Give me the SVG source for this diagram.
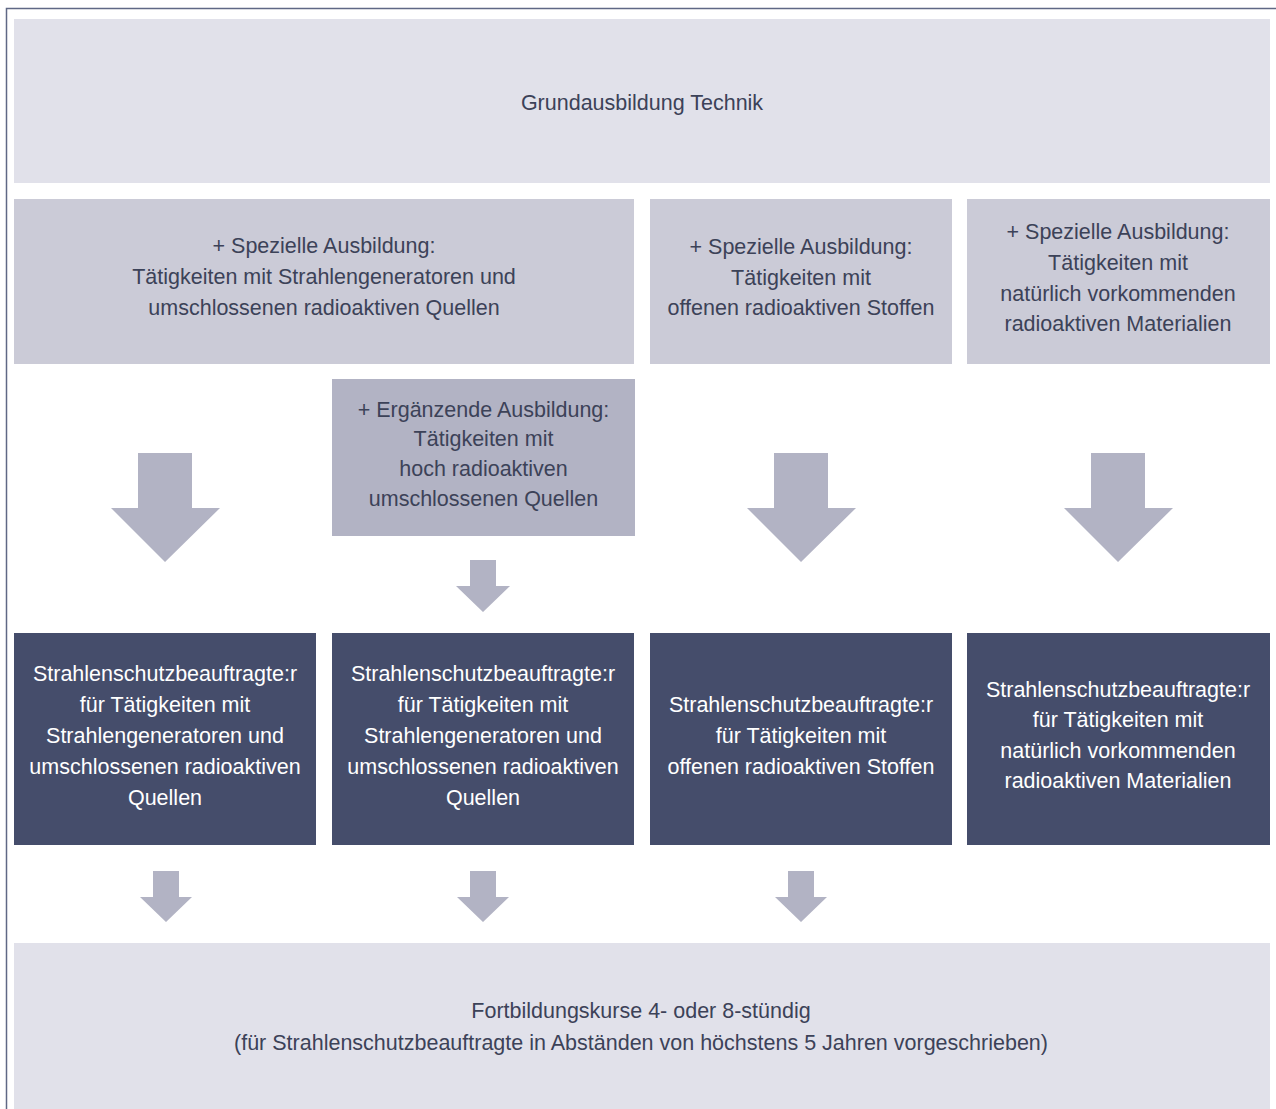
<svg xmlns="http://www.w3.org/2000/svg" width="1276" height="1109" viewBox="0 0 1276 1109">
<style>
.l1{fill:#e1e1ea}
.l2{fill:#cbcbd7}
.l3{fill:#b2b3c4}
.dk{fill:#454d6b}
.ar{fill:#b2b3c4}
text{font-family:"Liberation Sans",Arial,sans-serif;font-size:21.5px;text-anchor:middle}
.t{fill:#3c4258}
.w{fill:#ffffff}
</style>
<rect width="1276" height="1109" fill="#ffffff"/>
<path d="M6.5 1109 V8.5 H1276" fill="none" stroke="#5f6885" stroke-width="1.5"/>
<g id="grund">
<rect class="l1" x="14" y="19" width="1256" height="164"/>
<text class="t" x="642" y="110">Grundausbildung Technik</text>
</g>
<g id="spez1">
<rect class="l2" x="14" y="199" width="620" height="165"/>
<text class="t" x="324"><tspan x="324" y="253">+ Spezielle Ausbildung:</tspan><tspan x="324" y="284">Tätigkeiten mit Strahlengeneratoren und</tspan><tspan x="324" y="315">umschlossenen radioaktiven Quellen</tspan></text>
</g>
<g id="spez2">
<rect class="l2" x="650" y="199" width="302" height="165"/>
<text class="t"><tspan x="801" y="254">+ Spezielle Ausbildung:</tspan><tspan x="801" y="285">Tätigkeiten mit</tspan><tspan x="801" y="315">offenen radioaktiven Stoffen</tspan></text>
</g>
<g id="spez3">
<rect class="l2" x="967" y="199" width="303" height="165"/>
<text class="t"><tspan x="1118" y="239">+ Spezielle Ausbildung:</tspan><tspan x="1118" y="270">Tätigkeiten mit</tspan><tspan x="1118" y="301">natürlich vorkommenden</tspan><tspan x="1118" y="331">radioaktiven Materialien</tspan></text>
</g>
<g id="ergaenz">
<rect class="l3" x="332" y="379" width="303" height="157"/>
<text class="t"><tspan x="483.5" y="417">+ Ergänzende Ausbildung:</tspan><tspan x="483.5" y="446">Tätigkeiten mit</tspan><tspan x="483.5" y="476">hoch radioaktiven</tspan><tspan x="483.5" y="506">umschlossenen Quellen</tspan></text>
</g>
<g id="ssb1">
<rect class="dk" x="14" y="633" width="302" height="212"/>
<text class="w"><tspan x="165" y="681">Strahlenschutzbeauftragte:r</tspan><tspan x="165" y="712">für Tätigkeiten mit</tspan><tspan x="165" y="743">Strahlengeneratoren und</tspan><tspan x="165" y="774">umschlossenen radioaktiven</tspan><tspan x="165" y="805">Quellen</tspan></text>
</g>
<g id="ssb2">
<rect class="dk" x="332" y="633" width="302" height="212"/>
<text class="w"><tspan x="483" y="681">Strahlenschutzbeauftragte:r</tspan><tspan x="483" y="712">für Tätigkeiten mit</tspan><tspan x="483" y="743">Strahlengeneratoren und</tspan><tspan x="483" y="774">umschlossenen radioaktiven</tspan><tspan x="483" y="805">Quellen</tspan></text>
</g>
<g id="ssb3">
<rect class="dk" x="650" y="633" width="302" height="212"/>
<text class="w"><tspan x="801" y="712">Strahlenschutzbeauftragte:r</tspan><tspan x="801" y="743">für Tätigkeiten mit</tspan><tspan x="801" y="774">offenen radioaktiven Stoffen</tspan></text>
</g>
<g id="ssb4">
<rect class="dk" x="967" y="633" width="303" height="212"/>
<text class="w"><tspan x="1118" y="697">Strahlenschutzbeauftragte:r</tspan><tspan x="1118" y="727">für Tätigkeiten mit</tspan><tspan x="1118" y="758">natürlich vorkommenden</tspan><tspan x="1118" y="788">radioaktiven Materialien</tspan></text>
</g>
<g id="fortbildung">
<rect class="l1" x="14" y="943" width="1256" height="166"/>
<text class="t"><tspan x="641" y="1018">Fortbildungskurse 4- oder 8-stündig</tspan><tspan x="641" y="1050">(für Strahlenschutzbeauftragte in Abständen von höchstens 5 Jahren vorgeschrieben)</tspan></text>
</g>
<g id="connectors">
<path class="ar" d="M138 453 H192 V508 H220 L165 562 L111 508 H138 Z"/>
<path class="ar" d="M774 453 H828 V508 H856 L801 562 L747 508 H774 Z"/>
<path class="ar" d="M1091 453 H1145 V508 H1173 L1118 562 L1064 508 H1091 Z"/>
<path class="ar" d="M470 560 H496 V586 H510 L483 612 L456 586 H470 Z"/>
<path class="ar" d="M153 871 H179 V897 H192 L166 922 L140 897 H153 Z"/>
<path class="ar" d="M470 871 H496 V897 H509 L483 922 L457 897 H470 Z"/>
<path class="ar" d="M788 871 H814 V897 H827 L801 922 L775 897 H788 Z"/>
</g>
</svg>
